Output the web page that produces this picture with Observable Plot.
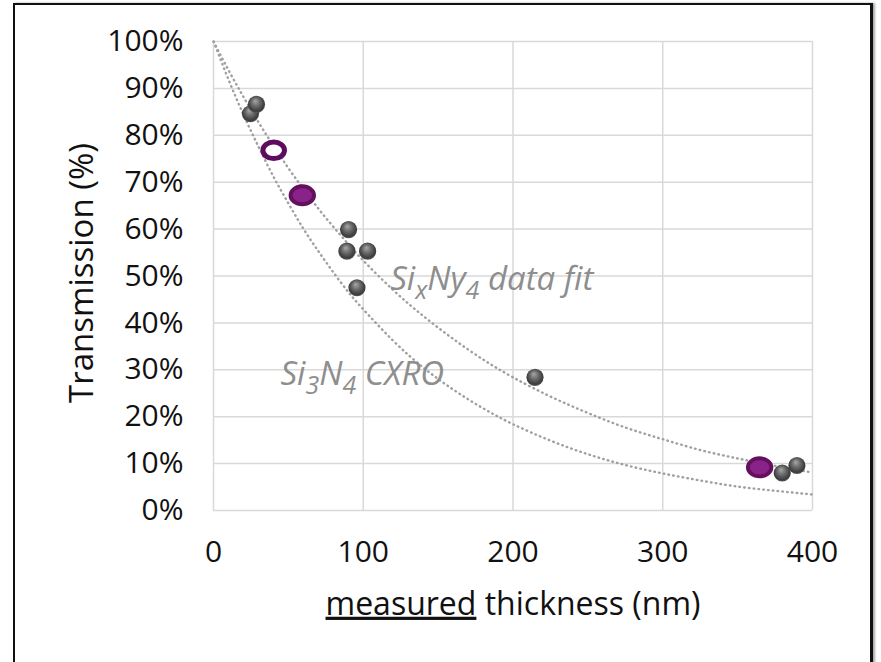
<!DOCTYPE html>
<html><head><meta charset="utf-8">
<script src="https://cdn.jsdelivr.net/npm/d3@7"></script>
<script src="https://cdn.jsdelivr.net/npm/@observablehq/plot@0.6"></script>
<style>
html,body{margin:0;padding:0;background:#fff;overflow:hidden;}
#wrap{position:relative;width:881px;height:662px;overflow:hidden;}
#border{position:absolute;left:13px;top:3px;width:855px;height:720px;border-left:2px solid #111;border-top:2px solid #111;border-right:3px solid #111;box-shadow:2px 0 2px rgba(0,0,0,0.35);}
#chart{position:absolute;left:0;top:0;}
</style></head><body><div id="wrap"><div id="border"></div><div id="chart"></div></div>
<script>
// Axis ticks
const xTicks = [0, 100, 200, 300, 400];
const yTicks = [0, 0.1, 0.2, 0.3, 0.4, 0.5, 0.6, 0.7, 0.8, 0.9, 1.0];

// Measured samples (gray spheres)
const sampleThickness = [24.7, 28.7, 90.2, 89.1, 102.9, 95.8, 214.7, 379.8, 389.6];
const sampleTransmission = [0.846, 0.866, 0.599, 0.553, 0.553, 0.475, 0.284, 0.080, 0.096];

// Highlighted samples (purple ellipses)
const openThickness = [40.2];
const openTransmission = [0.768];
const filledThickness = [59.3, 364.7];
const filledTransmission = [0.672, 0.092];

// Curves
const curveThickness = [0, 10, 20, 30, 40, 50, 60, 70, 80, 90, 100, 120, 140, 160, 180, 200, 225, 250, 275, 300, 325, 350, 375, 400];
const fitTransmission = [1.0, 0.939, 0.882, 0.828, 0.778, 0.730, 0.686, 0.644, 0.605, 0.568, 0.533, 0.470, 0.415, 0.366, 0.322, 0.284, 0.243, 0.208, 0.177, 0.152, 0.129, 0.111, 0.095, 0.081];
const cxroTransmission = [1.0, 0.919, 0.844, 0.776, 0.712, 0.655, 0.601, 0.553, 0.508, 0.466, 0.429, 0.362, 0.305, 0.258, 0.218, 0.184, 0.149, 0.120, 0.097, 0.079, 0.064, 0.051, 0.042, 0.034];

// Curve annotations
const labelText = ["SixNy4 data fit", "Si3N4 CXRO"];
const labelX = [118, 44.7];
const labelY = [0.492, 0.29];
const labelParts = [
  [["Si", false], ["x", true], ["Ny", false], ["4", true], [" data fit", false]],
  [["Si", false], ["3", true], ["N", false], ["4", true], [" CXRO", false]]
];

const xTitle = "measured thickness (nm)";
const yTitle = "Transmission (%)";

const samples = sampleThickness.map((x, i) => ({x, y: sampleTransmission[i]}));
const openPts = openThickness.map((x, i) => ({x, y: openTransmission[i]}));
const filledPts = filledThickness.map((x, i) => ({x, y: filledTransmission[i]}));
const fitLine = curveThickness.map((x, i) => ({x, y: fitTransmission[i]}));
const cxroLine = curveThickness.map((x, i) => ({x, y: cxroTransmission[i]}));
const labels = labelText.map((t, i) => ({t, x: labelX[i], y: labelY[i]}));

const ellipse = {
  draw(ctx, size) {
    const r = Math.sqrt(size / Math.PI);
    const rx = r * 1.3, ry = r, k = 0.5523;
    ctx.moveTo(rx, 0);
    ctx.bezierCurveTo(rx, ry * k, rx * k, ry, 0, ry);
    ctx.bezierCurveTo(-rx * k, ry, -rx, ry * k, -rx, 0);
    ctx.bezierCurveTo(-rx, -ry * k, -rx * k, -ry, 0, -ry);
    ctx.bezierCurveTo(rx * k, -ry, rx, -ry * k, rx, 0);
    ctx.closePath();
  }
};

const font = "'Open Sans', sans-serif";
const dotted = {stroke: "#a0a0a0", strokeWidth: 2.4, strokeDasharray: "0.6,4.2", strokeLinecap: "round", curve: "natural"};

const plot = Plot.plot({
  width: 881, height: 662,
  marginLeft: 213, marginRight: 69, marginTop: 41, marginBottom: 152,
  style: {fontFamily: font, fontSize: "30px", color: "#111", background: "transparent", overflow: "visible"},
  x: {domain: [0, 400], ticks: xTicks, tickSize: 0, tickPadding: 30, label: null, tickFormat: d => String(d)},
  y: {domain: [0, 1], ticks: yTicks, tickSize: 0, tickPadding: 30, label: null, tickFormat: d => Math.round(d * 100) + "%"},
  marks: [
    Plot.ruleX(xTicks, {stroke: "#d9d9d9", strokeWidth: 1.5}),
    Plot.ruleY(yTicks, {stroke: "#d9d9d9", strokeWidth: 1.5}),
    Plot.line(cxroLine, {x: "x", y: "y", ...dotted}),
    Plot.line(fitLine, {x: "x", y: "y", ...dotted}),
    Plot.text(labels, {x: "x", y: "y", text: "t", textAnchor: "start", fill: "#8e8e8e", fontSize: 33, fontStyle: "italic", fontFamily: font}),
    Plot.dot(samples, {x: "x", y: "y", r: 8.6, fill: "url(#ball)", stroke: "none"}),
    Plot.dot(openPts, {x: "x", y: "y", r: 8.3, symbol: ellipse, fill: "#ffffff", stroke: "#5e0d5e", strokeWidth: 5}),
    Plot.dot(filledPts, {x: "x", y: "y", r: 9, symbol: ellipse, fill: "#8a2389", stroke: "#64105f", strokeWidth: 4}),
    Plot.text([yTitle], {frameAnchor: "left", textAnchor: "middle", lineAnchor: "middle", dx: -131, dy: -3, rotate: -90, fontSize: 33, fill: "#111"}),
    Plot.text([xTitle], {frameAnchor: "bottom", textAnchor: "middle", lineAnchor: "middle", dy: 94, fontSize: 32, fill: "#111"})
  ]
});

// gradient for spheres
const svg = d3.select(plot);
const defs = svg.insert("defs", ":first-child");
const grad = defs.append("radialGradient").attr("id", "ball")
  .attr("cx", "50%").attr("cy", "45%").attr("r", "55%").attr("fx", "42%").attr("fy", "30%");
grad.append("stop").attr("offset", "0%").attr("stop-color", "#a8a8a8");
grad.append("stop").attr("offset", "45%").attr("stop-color", "#6a6a6a");
grad.append("stop").attr("offset", "85%").attr("stop-color", "#3c3c3c");
grad.append("stop").attr("offset", "100%").attr("stop-color", "#5a5a5a");

// subscripts and underline
svg.selectAll("text").each(function() {
  const t = this.textContent;
  const i = labelText.indexOf(t);
  const el = d3.select(this);
  if (i >= 0) {
    el.text(null);
    let shifted = false;
    for (const [s, sub] of labelParts[i]) {
      const ts = el.append("tspan").text(s);
      if (sub && !shifted) { ts.attr("dy", "9").attr("font-size", "25"); shifted = true; }
      else if (sub && shifted) { ts.attr("font-size", "25"); }
      else if (!sub && shifted) { ts.attr("dy", "-9"); shifted = false; }
    }
  } else if (t === xTitle) {
    el.text(null);
    el.append("tspan").text("measured").style("text-decoration", "underline").style("text-decoration-thickness", "3px");
    el.append("tspan").text(" thickness (nm)");
  }
});

document.getElementById("chart").appendChild(plot);
</script>
</body></html>
